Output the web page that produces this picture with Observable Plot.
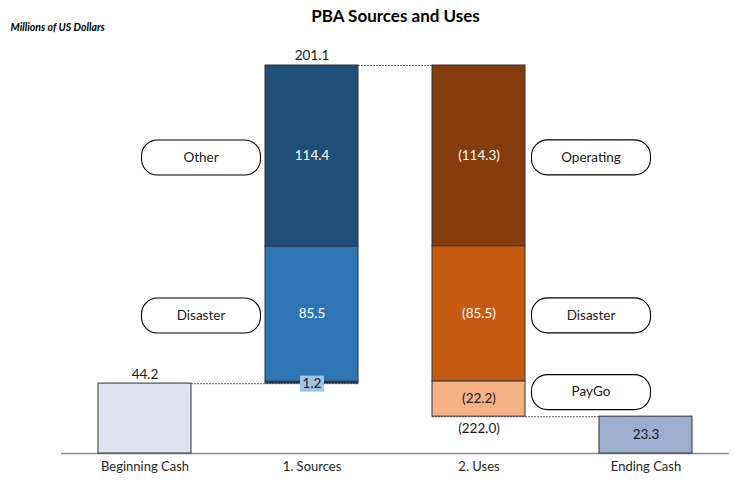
<!DOCTYPE html>
<html>
<head>
<meta charset="utf-8">
<script src="https://cdn.jsdelivr.net/npm/d3@7"></script>
<script src="https://cdn.jsdelivr.net/npm/@observablehq/plot@0.6"></script>
<style>
  html, body { margin: 0; padding: 0; background: #fff; }
  #chart svg { display: block; }
</style>
</head>
<body>
<div id="chart"></div>
<script>
// ---- Data ----
const categories = ["Beginning Cash", "1. Sources", "2. Uses", "Ending Cash"];
const beginningCash = 44.2;
const sourceValues = [1.2, 85.5, 114.4];          // bottom to top
const sourceLabels = ["", "Disaster", "Other"];
const useValues = [114.3, 85.5, 22.2];            // top to bottom
const useLabels = ["Operating", "Disaster", "PayGo"];
const endingCash = 23.3;
const totalSources = 201.1;
const totalUses = 222.0;

// ---- Colours ----
const beginColor = "#dee4ef";
const endColor = "#9dafcf";
const sourceColors = ["#203864", "#2e75b6", "#1f4e79"];
const useColors = ["#843c0c", "#c55a11", "#f4b183"];
const sourceText = ["#1a1a1a", "#ffffff", "#ffffff"];
const useText = ["#ffffff", "#ffffff", "#1a1a1a"];

const fmt = d3.format(".1f");
const FONT = "Lato, 'Open Sans', sans-serif";

// ---- Build segments ----
const segs = [];
segs.push({x: categories[0], y1: 0, y2: beginningCash, fill: beginColor, text: null});
let level = beginningCash;
sourceValues.forEach((v, i) => {
  segs.push({x: categories[1], y1: level, y2: level + v, fill: sourceColors[i],
    text: i === 0 ? null : fmt(v), tc: sourceText[i], name: sourceLabels[i]});
  level += v;
});
const topLevel = level;
useValues.forEach((v, i) => {
  segs.push({x: categories[2], y1: level - v, y2: level, fill: useColors[i],
    text: "(" + fmt(v) + ")", tc: useText[i], name: useLabels[i]});
  level -= v;
});
segs.push({x: categories[3], y1: 0, y2: endingCash, fill: endColor, text: fmt(endingCash), tc: "#1a1a1a"});

const connectors = [
  {x1: categories[0], x2: categories[1], y: beginningCash},
  {x1: categories[1], x2: categories[2], y: topLevel},
  {x1: categories[2], x2: categories[3], y: endingCash}
];

const mid = d => (d.y1 + d.y2) / 2;
const srcPills = segs.filter(d => d.x === categories[1] && d.name);
const usePills = segs.filter(d => d.x === categories[2] && d.name && d.name !== "PayGo");
const payPills = segs.filter(d => d.x === categories[2] && d.name === "PayGo");

function pill(w, h, r) {
  return {
    draw(ctx) {
      const x0 = -w / 2, y0 = -h / 2, x1 = w / 2, y1 = h / 2;
      if (r <= 0) { ctx.moveTo(x0, y0); ctx.lineTo(x1, y0); ctx.lineTo(x1, y1); ctx.lineTo(x0, y1); ctx.closePath(); return; }
      ctx.moveTo(x0 + r, y0);
      ctx.lineTo(x1 - r, y0);
      ctx.arcTo(x1, y0, x1, y0 + r, r);
      ctx.lineTo(x1, y1 - r);
      ctx.arcTo(x1, y1, x1 - r, y1, r);
      ctx.lineTo(x0 + r, y1);
      ctx.arcTo(x0, y1, x0, y1 - r, r);
      ctx.lineTo(x0, y0 + r);
      ctx.arcTo(x0, y0, x0 + r, y0, r);
      ctx.closePath();
    }
  };
}
const pillSym = pill(119, 35, 16);
const boxSym = pill(24, 16, 0);

const chart = Plot.plot({
  width: 734,
  height: 481,
  marginTop: 65,
  marginBottom: 28,
  marginLeft: 61,
  marginRight: 5,
  style: {fontFamily: FONT, background: "#fff"},
  x: {domain: categories, paddingInner: 0.443, paddingOuter: 0.2215, label: null},
  y: {domain: [0, topLevel], axis: null},
  color: {type: "identity"},
  marks: [
    Plot.ruleY(connectors, {x1: "x1", x2: "x2", y: "y", stroke: "#7f7f7f", strokeWidth: 1.2, strokeDasharray: "2,1"}),
    Plot.ruleY([0], {stroke: "#8c8c8c", strokeWidth: 1.5}),
    Plot.rectY(segs, {x: "x", y1: "y1", y2: "y2", fill: "fill", stroke: "#333333", strokeWidth: 1}),
    Plot.axisX({tickSize: 0, tickPadding: 8, fontSize: 13, fill: "#262626"}),
    // labels inside segments
    Plot.text(segs.filter(d => d.text), {x: "x", y: mid, text: "text", fill: "tc", fontSize: 13.5}),
    // 1.2 label with background box
    Plot.dot([segs[1]], {x: "x", y: "y1", symbol: boxSym, fill: "#9dc3e6", stroke: "none"}),
    Plot.text([segs[1]], {x: "x", y: "y1", text: d => fmt(d.y2 - d.y1), fill: "#1a1a1a", fontSize: 13.5}),
    // totals
    Plot.text([{x: categories[0], y: beginningCash}], {x: "x", y: "y", text: d => fmt(d.y), dy: -9, fontSize: 13.5, fill: "#1a1a1a"}),
    Plot.text([{x: categories[1], y: topLevel}], {x: "x", y: "y", text: () => fmt(totalSources), dy: -10, fontSize: 13.5, fill: "#1a1a1a"}),
    Plot.text([{x: categories[2], y: endingCash}], {x: "x", y: "y", text: () => "(" + fmt(totalUses) + ")", dy: 12, fontSize: 13.5, fill: "#1a1a1a"}),
    // pills
    Plot.dot(srcPills, {x: "x", y: mid, dx: -111, dy: 1.5, symbol: pillSym, fill: "#fff", stroke: "#000", strokeWidth: 1.1}),
    Plot.text(srcPills, {x: "x", y: mid, dx: -111, dy: 1.5, text: "name", fontSize: 13.5, fill: "#1a1a1a"}),
    Plot.dot(usePills, {x: "x", y: mid, dx: 112, dy: 1.5, symbol: pillSym, fill: "#fff", stroke: "#000", strokeWidth: 1.1}),
    Plot.text(usePills, {x: "x", y: mid, dx: 112, dy: 1.5, text: "name", fontSize: 13.5, fill: "#1a1a1a"}),
    Plot.dot(payPills, {x: "x", y: mid, dx: 112, dy: -7, symbol: pillSym, fill: "#fff", stroke: "#000", strokeWidth: 1.1}),
    Plot.text(payPills, {x: "x", y: mid, dx: 112, dy: -7, text: "name", fontSize: 13.5, fill: "#1a1a1a"}),
    // title & subtitle
    Plot.text(["PBA Sources and Uses"], {frameAnchor: "top", dy: -49, lineAnchor: "middle", text: d => d, fontSize: 17, fontWeight: "bold", fill: "#000"}),
    Plot.text(["Millions of US Dollars"], {frameAnchor: "top-left", dx: -51, dy: -38, lineAnchor: "middle", text: d => d, fontSize: 10.5, fontWeight: "bold", fontStyle: "italic", textAnchor: "start", fill: "#000"})
  ]
});
document.getElementById("chart").appendChild(chart);
</script>
</body>
</html>
